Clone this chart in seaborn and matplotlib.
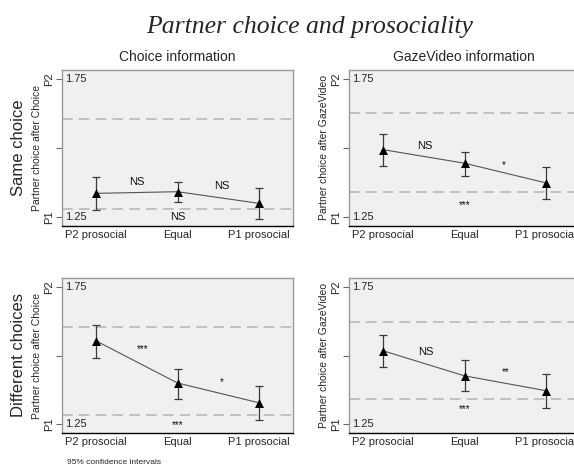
import matplotlib
matplotlib.use("Agg")
import matplotlib.pyplot as plt
import matplotlib.transforms as mtransforms
import seaborn as sns
import pandas as pd

sns.set_theme(style="white")
plt.rcParams["font.family"] = ["Liberation Sans", "DejaVu Sans"]

categories = ["P2 prosocial", "Equal", "P1 prosocial"]

# Mean partner choice (1 = P1, 2 = P2) with 95% confidence limits
same_choice_mean = [1.336, 1.342, 1.300]
same_choice_lo = [1.276, 1.303, 1.243]
same_choice_hi = [1.394, 1.378, 1.356]

same_gaze_mean = [1.494, 1.445, 1.374]
same_gaze_lo = [1.435, 1.399, 1.317]
same_gaze_hi = [1.549, 1.485, 1.432]

diff_choice_mean = [1.553, 1.400, 1.328]
diff_choice_lo = [1.490, 1.343, 1.267]
diff_choice_hi = [1.611, 1.452, 1.390]

diff_gaze_mean = [1.517, 1.426, 1.372]
diff_gaze_lo = [1.459, 1.370, 1.310]
diff_gaze_hi = [1.573, 1.482, 1.432]

# Dashed reference levels per panel
same_choice_ref = [1.280, 1.604]
same_gaze_ref = [1.341, 1.625]
diff_choice_ref = [1.282, 1.603]
diff_gaze_ref = [1.340, 1.621]

# Significance labels: (x, y, text)
same_choice_sig = [(0.5, 1.376, "NS"), (1.55, 1.363, "NS"), (1.0, 1.249, "NS")]
same_gaze_sig = [(0.51, 1.508, "NS"), (1.48, 1.440, "*"), (1.0, 1.295, "***")]
diff_choice_sig = [(0.575, 1.522, "***"), (1.54, 1.403, "*"), (1.0, 1.247, "***")]
diff_gaze_sig = [(0.53, 1.513, "NS"), (1.51, 1.440, "**"), (1.0, 1.305, "***")]

panels = [
    dict(mean=same_choice_mean, lo=same_choice_lo, hi=same_choice_hi, ref=same_choice_ref,
         sig=same_choice_sig, ylabel="Partner choice after Choice",
         rect=[62 / 574, 1 - 226 / 470, 231 / 574, 156 / 470]),
    dict(mean=same_gaze_mean, lo=same_gaze_lo, hi=same_gaze_hi, ref=same_gaze_ref,
         sig=same_gaze_sig, ylabel="Partner choice after GazeVideo",
         rect=[349 / 574, 1 - 226 / 470, 231 / 574, 156 / 470]),
    dict(mean=diff_choice_mean, lo=diff_choice_lo, hi=diff_choice_hi, ref=diff_choice_ref,
         sig=diff_choice_sig, ylabel="Partner choice after Choice",
         rect=[62 / 574, 1 - 433 / 470, 231 / 574, 155 / 470]),
    dict(mean=diff_gaze_mean, lo=diff_gaze_lo, hi=diff_gaze_hi, ref=diff_gaze_ref,
         sig=diff_gaze_sig, ylabel="Partner choice after GazeVideo",
         rect=[349 / 574, 1 - 433 / 470, 231 / 574, 155 / 470]),
]

fig = plt.figure(figsize=(5.74, 4.70), dpi=100)

for p in panels:
    ax = fig.add_axes(p["rect"])
    ax.set_facecolor("#f0f0f0")
    df = pd.DataFrame({"pos": range(len(categories)), "mean": p["mean"],
                       "lo": p["lo"], "hi": p["hi"]})
    for r in p["ref"]:
        ax.axhline(r, color="#b4b4b4", lw=1.1, ls=(0, (7, 4)), zorder=1)
    ax.errorbar(df["pos"], df["mean"],
                yerr=[df["mean"] - df["lo"], df["hi"] - df["mean"]],
                fmt="none", ecolor="#3a3a3a", elinewidth=0.9, capsize=3,
                capthick=0.9, zorder=2)
    sns.lineplot(data=df, x="pos", y="mean", ax=ax, color="#555555", lw=0.8,
                 zorder=3, legend=False)
    sns.scatterplot(data=df, x="pos", y="mean", ax=ax, marker="^", color="black",
                    s=42, edgecolor="black", linewidth=0, zorder=4, legend=False)
    for x, y, t in p["sig"]:
        ax.text(x, y, t, ha="center", va="center", fontsize=8 if t == "NS" else 7,
                color="#111111")
    ax.set_xlim(-0.42, 2.42)
    ax.set_ylim(1.218, 1.782)
    ax.set_xticks(range(len(categories)))
    ax.set_xticklabels(categories, fontsize=8)
    ax.tick_params(axis="x", length=0, pad=3)
    ax.set_yticks([1.25, 1.5, 1.75])
    ax.set_yticklabels(["P1", "", "P2"], rotation=90, va="center", fontsize=8)
    ax.tick_params(axis="y", length=4, width=0.8, color="#666666", pad=2, left=True)
    trans = mtransforms.blended_transform_factory(ax.transAxes, ax.transData)
    ax.text(0.015, 1.75, "1.75", transform=trans, ha="left", va="center", fontsize=8)
    ax.text(0.015, 1.25, "1.25", transform=trans, ha="left", va="center", fontsize=8)
    ax.set_xlabel("")
    ax.set_ylabel(p["ylabel"], fontsize=7.5, labelpad=1)
    for side in ["left", "top", "right"]:
        ax.spines[side].set_color("#9a9a9a")
        ax.spines[side].set_linewidth(1.0)
        ax.spines[side].set_visible(True)
    ax.spines["bottom"].set_color("black")
    ax.spines["bottom"].set_linewidth(1.0)
    ax.spines["bottom"].set_visible(True)

fig.text(310 / 574, 1 - 27 / 470, "Partner choice and prosociality",
         ha="center", va="center", fontsize=18.5, style="italic",
         family=["Liberation Serif", "DejaVu Serif"])
fig.text(177 / 574, 1 - 57 / 470, "Choice information", ha="center", va="center",
         fontsize=10)
fig.text(464 / 574, 1 - 57 / 470, "GazeVideo information", ha="center", va="center",
         fontsize=10)
fig.text(19 / 574, 1 - 148 / 470, "Same choice", ha="center", va="center",
         rotation=90, fontsize=12)
fig.text(19 / 574, 1 - 355 / 470, "Different choices", ha="center", va="center",
         rotation=90, fontsize=12)
fig.text(67 / 574, 1 - 462 / 470, "95% confidence intervals", ha="left",
         va="center", fontsize=6)

fig.savefig("out.png", dpi=100, facecolor="white")
